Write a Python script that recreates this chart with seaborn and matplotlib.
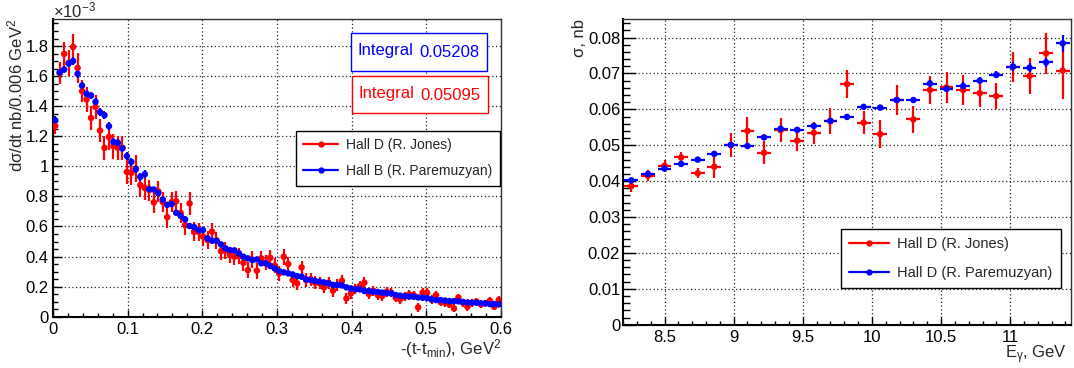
import numpy as np
import matplotlib
matplotlib.use("Agg")
import matplotlib.pyplot as plt
from matplotlib.lines import Line2D
from matplotlib.patches import Rectangle
from matplotlib.ticker import MultipleLocator, FuncFormatter
import seaborn as sns

# ---------------- data: d(sigma)/dt vs -(t - t_min), units of 1e-3 nb per 0.006 GeV^2 ----------------
t_edges = np.linspace(0.0, 0.6, 101)

hallB_dsdt = [1.307, 1.624, 1.644, 1.684, 1.701, 1.615, 1.537, 1.482, 1.471, 1.429,
              1.360, 1.340, 1.267, 1.163, 1.156, 1.120, 1.068, 1.030, 0.981, 0.930,
              0.948, 0.849, 0.846, 0.822, 0.780, 0.744, 0.749, 0.691, 0.671, 0.647,
              0.603, 0.596, 0.576, 0.576, 0.521, 0.505, 0.505, 0.481, 0.455, 0.443,
              0.441, 0.421, 0.399, 0.388, 0.377, 0.381, 0.355, 0.355, 0.337, 0.321,
              0.303, 0.295, 0.288, 0.281, 0.270, 0.266, 0.248, 0.244, 0.239, 0.233,
              0.228, 0.222, 0.211, 0.211, 0.208, 0.195, 0.188, 0.182, 0.182, 0.171,
              0.171, 0.166, 0.164, 0.160, 0.157, 0.155, 0.144, 0.140, 0.137, 0.133,
              0.133, 0.128, 0.126, 0.124, 0.115, 0.111, 0.111, 0.107, 0.104, 0.104,
              0.102, 0.098, 0.095, 0.093, 0.093, 0.089, 0.089, 0.084, 0.084, 0.082]
hallB_dsdt_err = [0.025] * 21 + [0.015] * 29 + [0.008] * 50

hallD_dsdt = [1.269, 1.620, 1.748, 1.688, 1.794, 1.655, 1.500, 1.445, 1.322, 1.395,
              1.238, 1.123, 1.196, 1.134, 1.123, 1.123, 0.963, 0.957, 0.986, 0.875,
              0.857, 0.842, 0.760, 0.833, 0.764, 0.662, 0.762, 0.768, 0.690, 0.609,
              0.753, 0.565, 0.565, 0.532, 0.510, 0.565, 0.507, 0.436, 0.440, 0.410,
              0.399, 0.403, 0.359, 0.310, 0.380, 0.306, 0.388, 0.360, 0.392, 0.340,
              0.288, 0.399, 0.350, 0.244, 0.222, 0.328, 0.244, 0.250, 0.226, 0.222,
              0.195, 0.226, 0.173, 0.211, 0.239, 0.122, 0.155, 0.184, 0.204, 0.226,
              0.151, 0.173, 0.144, 0.137, 0.166, 0.160, 0.126, 0.115, 0.133, 0.148,
              0.144, 0.062, 0.160, 0.160, 0.115, 0.144, 0.098, 0.093, 0.082, 0.055,
              0.128, 0.093, 0.066, 0.093, 0.100, 0.082, 0.089, 0.106, 0.066, 0.111]
hallD_dsdt_err = [0.053, 0.071, 0.082, 0.085, 0.086, 0.100, 0.071, 0.082, 0.082, 0.078,
                  0.075, 0.082, 0.089, 0.082, 0.082, 0.082, 0.078, 0.082, 0.089, 0.078,
                  0.078, 0.070, 0.068, 0.070, 0.066, 0.071, 0.066, 0.066, 0.064, 0.064,
                  0.077, 0.062, 0.060, 0.060, 0.060, 0.060, 0.058, 0.058, 0.058, 0.056,
                  0.055, 0.055, 0.055, 0.054, 0.054, 0.052, 0.052, 0.052, 0.052, 0.050,
                  0.050, 0.053, 0.050, 0.048, 0.046, 0.045, 0.044, 0.043, 0.042, 0.041,
                  0.040, 0.040, 0.039, 0.038, 0.038, 0.037, 0.036, 0.036, 0.035, 0.035,
                  0.034, 0.034, 0.033, 0.033, 0.032, 0.032, 0.031, 0.031, 0.030, 0.030,
                  0.030, 0.029, 0.029, 0.029, 0.028, 0.028, 0.028, 0.027, 0.027, 0.027,
                  0.026, 0.026, 0.026, 0.026, 0.025, 0.025, 0.025, 0.025, 0.024, 0.024]

integral_hallB = "0.05208"
integral_hallD = "0.05095"

# ---------------- data: total cross section vs photon energy ----------------
e_edges = np.linspace(8.2, 11.44, 28)

sigma_jones = [0.0386, 0.0415, 0.0443, 0.0466, 0.0422, 0.0440, 0.0500, 0.0540, 0.0479,
               0.0542, 0.0513, 0.0535, 0.0567, 0.0670, 0.0563, 0.0531, 0.0626, 0.0572,
               0.0654, 0.0661, 0.0654, 0.0645, 0.0637, 0.0719, 0.0693, 0.0756, 0.0708]
sigma_jones_err = [0.0017, 0.0016, 0.0017, 0.0014, 0.0014, 0.0030, 0.0033, 0.0038, 0.0032,
                   0.0034, 0.0030, 0.0031, 0.0036, 0.0039, 0.0033, 0.0038, 0.0043, 0.0038,
                   0.0039, 0.0042, 0.0043, 0.0039, 0.0036, 0.0042, 0.0050, 0.0058, 0.0078]

sigma_parem = [0.0402, 0.0420, 0.0435, 0.0448, 0.0460, 0.0476, 0.0501, 0.0498, 0.0522,
               0.0546, 0.0543, 0.0554, 0.0568, 0.0579, 0.0607, 0.0605, 0.0626, 0.0626,
               0.0672, 0.0657, 0.0665, 0.0680, 0.0696, 0.0719, 0.0716, 0.0731, 0.0784]
sigma_parem_err = [0.0005, 0.0005, 0.0005, 0.0005, 0.0005, 0.0006, 0.0006, 0.0006, 0.0006,
                   0.0007, 0.0007, 0.0007, 0.0007, 0.0007, 0.0008, 0.0008, 0.0008, 0.0008,
                   0.0010, 0.0010, 0.0010, 0.0010, 0.0010, 0.0012, 0.0012, 0.0013, 0.0023]

label_jones = "Hall D (R. Jones)"
label_hallB = "Hall B (R. Paremuzyan)"
label_parem = "Hall D (R. Paremuzyan)"

# ---------------- style ----------------
sns.set_theme(style="white")
plt.rcParams["font.family"] = ["Liberation Sans", "DejaVu Sans"]
plt.rcParams["mathtext.fontset"] = "custom"
plt.rcParams["mathtext.rm"] = "Liberation Sans"
plt.rcParams["mathtext.it"] = "Liberation Sans:italic"
plt.rcParams["axes.unicode_minus"] = True

RED = "#ff0000"
BLUE = "#0000ff"
FS = 12

fig = plt.figure(figsize=(10.74, 3.68), dpi=100)
fig.patch.set_facecolor("white")
ax1 = fig.add_axes([0.0493, 0.1394, 0.4172, 0.8090])
ax2 = fig.add_axes([0.5801, 0.1177, 0.4171, 0.8299])


def root_frame(ax, ymaj_len, ymin_len, xmaj_len, xmin_len):
    for side in ("left", "bottom"):
        ax.spines[side].set_linewidth(1.5)
        ax.spines[side].set_color("black")
    for side in ("top", "right"):
        ax.spines[side].set_linewidth(1.0)
        ax.spines[side].set_color("#333333")
    ax.tick_params(axis="both", which="both", direction="in", colors="black",
                   labelsize=FS, width=1.0, top=False, right=False, left=True, bottom=True)
    ax.tick_params(axis="y", which="major", length=ymaj_len, pad=3)
    ax.tick_params(axis="y", which="minor", length=ymin_len)
    ax.tick_params(axis="x", which="major", length=xmaj_len, pad=4)
    ax.tick_params(axis="x", which="minor", length=xmin_len)
    ax.grid(True, which="major", color="#222222", linestyle=(0, (1, 2)), linewidth=0.9)
    ax.set_axisbelow(True)
    fmt = FuncFormatter(lambda v, p: "%g" % round(v, 6))
    ax.xaxis.set_major_formatter(fmt)
    ax.yaxis.set_major_formatter(fmt)


def binned(ax, edges, vals, errs, color, xhalf):
    centers = 0.5 * (np.asarray(edges[:-1]) + np.asarray(edges[1:]))
    ax.errorbar(centers, vals, yerr=errs, xerr=xhalf, fmt="none", ecolor=color,
                elinewidth=1.6, capsize=0, zorder=3)
    sns.scatterplot(x=centers, y=vals, color=color, s=22, edgecolor="none",
                    linewidth=0, ax=ax, zorder=4, legend=False)


# ---------------- left: d(sigma)/dt ----------------
binned(ax1, t_edges, hallD_dsdt, hallD_dsdt_err, RED, 0.003)
binned(ax1, t_edges, hallB_dsdt, hallB_dsdt_err, BLUE, 0.003)
ax1.set_xlim(0, 0.6)
ax1.set_ylim(0, 1.98)
ax1.xaxis.set_major_locator(MultipleLocator(0.1))
ax1.xaxis.set_minor_locator(MultipleLocator(0.02))
ax1.yaxis.set_major_locator(MultipleLocator(0.2))
ax1.yaxis.set_minor_locator(MultipleLocator(0.05))
root_frame(ax1, 6.5, 3.3, 5.3, 2.9)
ax1.set_xlabel("")
ax1.set_ylabel("")

ax1.text(0.0, 1.006, "×10$^{\\mathregular{−3}}$", transform=ax1.transAxes,
         ha="left", va="baseline", fontsize=FS)
ax1.text(-0.083, 1.0, "dσ/dt nb/0.006 GeV$^{\\mathregular{2}}$", transform=ax1.transAxes,
         rotation=90, ha="center", va="top", fontsize=FS)
ax1.text(1.0, -0.108, "-(t-t$_{\\mathregular{min}}$), GeV$^{\\mathregular{2}}$",
         transform=ax1.transAxes, ha="right", va="center", fontsize=FS)

# integral boxes
for (x0, y0, x1, y1, col, val, tx, vx) in [
        (0.6645, 0.825, 0.968, 0.954, BLUE, integral_hallB, 0.679, 0.8177),
        (0.6674, 0.6832, 0.9703, 0.8085, RED, integral_hallD, 0.6823, 0.8208)]:
    ax1.add_patch(Rectangle((x0, y0), x1 - x0, y1 - y0, transform=ax1.transAxes,
                            facecolor="white", edgecolor=col, linewidth=1.0, zorder=6))
    yc = 0.5 * (y0 + y1)
    ax1.text(tx, yc + 0.005, "Integral", transform=ax1.transAxes, color=col,
             ha="left", va="center", fontsize=FS, zorder=7)
    ax1.text(vx, yc - 0.002, val, transform=ax1.transAxes, color=col,
             ha="left", va="center", fontsize=FS, zorder=7)

h_red = Line2D([], [], color=RED, marker="o", markersize=3.5, linewidth=1.6)
h_blue = Line2D([], [], color=BLUE, marker="o", markersize=3.5, linewidth=1.6)
leg1 = ax1.legend([h_red, h_blue], [label_jones, label_hallB], loc="upper left",
                  bbox_to_anchor=(0.542, 0.625), borderaxespad=0, fontsize=10,
                  frameon=True, fancybox=False, framealpha=1, edgecolor="black",
                  handlelength=2.5, handletextpad=0.6, labelspacing=0.85,
                  borderpad=0.55)
leg1.get_frame().set_linewidth(1.0)
leg1.set_zorder(8)

# ---------------- right: sigma vs E_gamma ----------------
binned(ax2, e_edges, sigma_jones, sigma_jones_err, RED, 0.05)
binned(ax2, e_edges, sigma_parem, sigma_parem_err, BLUE, 0.05)
ax2.set_xlim(8.2, 11.44)
ax2.set_ylim(0, 0.0851)
ax2.xaxis.set_major_locator(MultipleLocator(0.5))
ax2.xaxis.set_minor_locator(MultipleLocator(0.1))
ax2.yaxis.set_major_locator(MultipleLocator(0.01))
ax2.yaxis.set_minor_locator(MultipleLocator(0.002))
root_frame(ax2, 9.1, 4.8, 6.0, 3.1)
ax2.set_xlabel("")
ax2.set_ylabel("")
ax2.tick_params(axis="y", which="major", pad=2)

ax2.text(-0.098, 1.0, "σ, nb", transform=ax2.transAxes, rotation=90,
         ha="center", va="top", fontsize=FS)
ax2.text(0.991, -0.099, "E$_{\\mathregular{γ}}$, GeV", transform=ax2.transAxes,
         ha="right", va="center", fontsize=FS)

leg2 = ax2.legend([h_red, h_blue], [label_jones, label_parem], loc="upper left",
                  bbox_to_anchor=(0.487, 0.313), borderaxespad=0, fontsize=10.5,
                  frameon=True, fancybox=False, framealpha=1, edgecolor="black",
                  handlelength=2.7, handletextpad=0.6, labelspacing=1.0,
                  borderpad=0.55)
leg2.get_frame().set_linewidth(1.0)
leg2.set_zorder(8)

fig.savefig("out.png", dpi=100, facecolor="white")
